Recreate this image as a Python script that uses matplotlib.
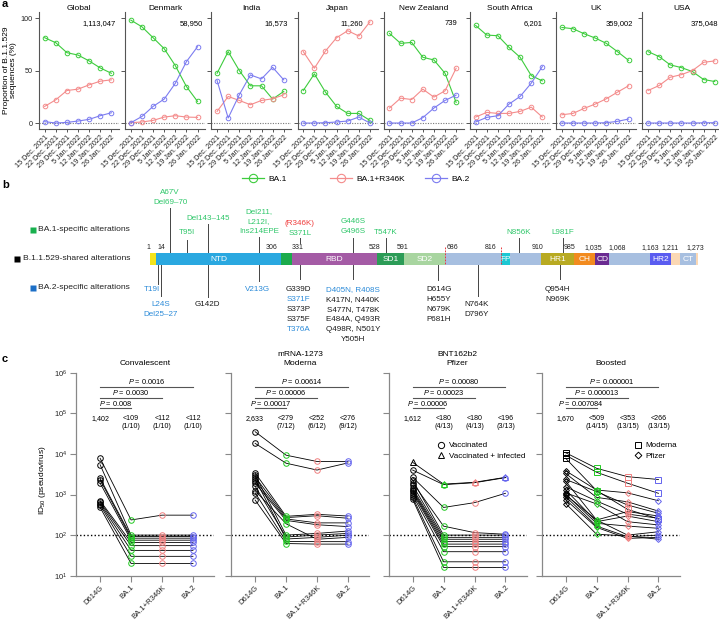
import matplotlib
matplotlib.use('Agg')
import matplotlib.pyplot as plt
from matplotlib.lines import Line2D
import numpy as np

plt.rcParams['font.family'] = ['Liberation Sans', 'DejaVu Sans']
plt.rcParams['mathtext.fontset'] = 'custom'
plt.rcParams['mathtext.rm'] = 'Liberation Sans'
plt.rcParams['mathtext.it'] = 'Liberation Sans:italic'
plt.rcParams['mathtext.bf'] = 'Liberation Sans:bold'

W, H = 719, 621
fig = plt.figure(figsize=(W / 100, H / 100), dpi=100)


def ax_px(l, t, r, b):
    return fig.add_axes([l / W, 1 - b / H, (r - l) / W, (b - t) / H])


# ======================= DATA: panel a =======================
dates = ['15 Dec. 2021', '22 Dec. 2021', '29 Dec. 2021', '5 Jan. 2022',
         '12 Jan. 2022', '19 Jan. 2022', '26 Jan. 2022']
regions = ['Global', 'Denmark', 'India', 'Japan', 'New Zealand',
           'South Africa', 'UK', 'USA']
seq_counts = ['1,113,047', '58,950', '16,573', '11,260', '739', '6,201',
              '359,002', '375,048']
ba1_pct = [
    [81.6, 76.8, 67.3, 65.0, 59.4, 52.7, 47.6],
    [98.4, 92.0, 81.6, 71.1, 54.9, 34.9, 20.6],
    [47.6, 68.3, 50.2, 35.6, 35.6, 22.9, 30.2],
    [31.1, 47.0, 29.5, 15.9, 9.2, 9.2, 2.5],
    [85.7, 76.2, 77.1, 62.9, 60.3, 47.6, 19.7],
    [93.3, 84.1, 83.5, 72.4, 62.9, 45.4, 40.3],
    [91.4, 90.2, 85.4, 81.3, 76.2, 68.3, 60.0],
    [68.3, 63.5, 55.6, 53.0, 49.2, 41.6, 39.7],
]
r346k_pct = [
    [15.9, 22.2, 31.1, 32.4, 36.5, 40.0, 41.3],
    [0.3, 1.0, 2.5, 5.7, 7.0, 5.7, 5.4],
    [11.1, 25.4, 21.6, 17.5, 21.6, 23.2, 27.0],
    [68.3, 52.4, 68.9, 81.6, 88.3, 83.2, 96.8],
    [14.3, 23.8, 22.5, 32.4, 24.8, 30.8, 52.4],
    [5.7, 10.2, 9.2, 9.2, 11.1, 15.2, 5.7],
    [7.9, 9.2, 14.0, 18.1, 23.2, 29.5, 35.6],
    [31.1, 35.9, 43.8, 46.3, 50.2, 58.1, 59.4],
]
ba2_pct = [
    [1.3, 0.0, 0.6, 1.9, 3.5, 7.0, 9.8],
    [0.3, 6.3, 15.9, 22.9, 38.0, 58.7, 73.0],
    [40.6, 4.8, 27.0, 46.0, 42.2, 53.3, 41.3],
    [0.0, 0.0, 0.3, 1.0, 1.9, 5.7, 0.0],
    [0.0, 0.0, 0.0, 5.1, 14.3, 21.6, 26.7],
    [1.0, 5.4, 7.0, 18.1, 25.4, 38.1, 54.0],
    [0.0, 0.0, 0.0, 0.0, 0.3, 1.6, 3.8],
    [0.0, 0.0, 0.0, 0.0, 0.0, 0.2, 0.3],
]
variant_names = ['BA.1', 'BA.1+R346K', 'BA.2']

# ======================= DATA: panel b =======================
domain_start = [1, 14, 306, 331, 528, 591, 686, 816, 837, 910, 985, 1035, 1068, 1163, 1211, 1233, 1270]
domain_end = [14, 306, 331, 528, 591, 686, 816, 837, 910, 985, 1035, 1068, 1163, 1211, 1233, 1270, 1273]
domain_names = ['', 'NTD', '', 'RBD', 'SD1', 'SD2', '', 'FP', '', 'HR1', 'CH', 'CD', '', 'HR2', '', 'CT', '']
domain_colors = ['#f3e41c', '#2aa8e0', '#1cab4c', '#a45ba5', '#2c9c57', '#a8d5a0', '#a7bfe0', '#1bc8d3',
                 '#a7bfe0', '#b8aa22', '#f28b1f', '#6a2b91', '#a7bfe0', '#5a5cf0', '#fbd8b4', '#a7bfe0', '#fbd8b4']
boundary_values = [1, 14, 306, 331, 528, 591, 686, 816, 910, 985, 1035, 1068, 1163, 1211, 1273]
boundary_label_pos = [-3.6, 26.5, 284, 345, 523.6, 588.7, 702.5, 793, 902, 976.6, 1030, 1085.8, 1162.4, 1209, 1267]
cleavage_sites = [686, 816]

top_stem_pos = [47.5, 87, 135.7, 254, 349, 472.5, 549, 858, 960]
top_labels = [['A67V', 'Del69–70'], ['T95I'], ['Del143–145'], ['Del211,', 'L212I,', 'Ins214EPE'],
              ['(R346K)', 'S371L'], ['G446S', 'G496S'], ['T547K'], ['N856K'], ['L981F']]
top_label_kind = [['ba1', 'ba1'], ['ba1'], ['ba1'], ['ba1', 'ba1', 'ba1'],
                  ['r346k', 'ba1'], ['ba1', 'ba1'], ['ba1'], ['ba1'], ['ba1']]
top_last_line_y = [202.5, 233, 218.3, 231.7, 233.3, 231.7, 233, 233, 233]
top_stem_top = [208, 240, 224, 237.5, 238.5, 237.7, 238, 238, 238]
top_stem_bottom = [253, 253, 253, 253, 243, 253, 253, 253, 253]

bot_stem_pos = [19.6, 26.5, 135.7, 254, 349, 472.5, 670, 763, 953]
bot_text_pos = [5.6, 26.5, 133.4, 251.7, 346.7, 472.5, 672.3, 760.7, 948.3]
bot_labels = [['T19I'], ['L24S', 'Del25–27'], ['G142D'], ['V213G'],
              ['G339D', 'S371F', 'S373P', 'S375F', 'T376A'],
              ['D405N, R408S', 'K417N, N440K', 'S477N, T478K', 'E484A, Q493R', 'Q498R, N501Y', 'Y505H'],
              ['D614G', 'H655Y', 'N679K', 'P681H'], ['N764K', 'D796Y'], ['Q954H', 'N969K']]
bot_label_kind = [['ba2'], ['ba2', 'ba2'], ['shared'], ['ba2'],
                  ['shared', 'ba2', 'shared', 'shared', 'ba2'],
                  ['ba2', 'shared', 'shared', 'shared', 'shared', 'shared'],
                  ['shared'] * 4, ['shared'] * 2, ['shared'] * 2]
bot_first_line_y = [289.3, 304.3, 304.3, 289.3, 289.3, 289.3, 289.3, 304.3, 289.3]
bot_stem_end = [284, 296, 297, 281, 279, 279, 280, 296, 279]

legend_b_labels = ['BA.1-specific alterations', 'B.1.1.529-shared alterations', 'BA.2-specific alterations']
legend_b_kind = ['ba1', 'shared', 'ba2']

# ======================= DATA: panel c =======================
c_categories = ['D614G', 'BA.1', 'BA.1+R346K', 'BA.2']
c_titles = ['Convalescent', 'mRNA-1273\nModerna', 'BNT162b2\nPfizer', 'Boosted']

conv_d614g = [7800, 5400, 2500, 2300, 1900, 700, 650, 600, 550, 480]
conv_ba1 = [236, 100, 92, 84, 75, 66, 55, 42, 30, 20]
conv_r346k = [310, 100, 92, 84, 75, 66, 55, 42, 30, 20]
conv_ba2 = [310, 100, 92, 84, 75, 66, 55, 42, 30, 20]

mod_d614g = [35200, 18200, 3400, 3000, 2700, 2400, 2200, 1900, 1600, 1250, 1100, 730]
mod_ba1 = [9300, 5900, 290, 100, 270, 80, 250, 230, 90, 190, 70, 62]
mod_r346k = [6500, 4000, 325, 110, 300, 88, 200, 180, 100, 79, 69, 60]
mod_ba2 = [6500, 6000, 295, 126, 260, 100, 200, 162, 110, 88, 69, 60]

pfz_d614g = [6200, 4000, 2650, 2270, 1960, 1700, 1410, 1290, 1200, 1100, 970, 850, 760]
pfz_ba1 = [1800, 1750, 480, 100, 166, 88, 79, 69, 60, 52, 39, 22, 16]
pfz_r346k = [2000, 1950, 630, 100, 115, 88, 79, 69, 60, 52, 39, 22, 16]
pfz_ba2 = [2650, 2600, 1070, 100, 105, 88, 79, 69, 60, 52, 39, 22, 16]
pfz_group = ['infected'] + ['vaccinated'] * 12

bst_d614g = [10700, 9300, 7800, 3850, 3300, 2350, 2130, 1550, 1300, 1100, 1020, 980, 890, 750, 600]
bst_ba1 = [4420, 3530, 1250, 1290, 850, 1180, 236, 690, 214, 585, 195, 236, 167, 155, 105]
bst_r346k = [2750, 1900, 430, 1100, 660, 550, 380, 330, 295, 214, 167, 100, 91, 83, 95]
bst_ba2 = [2340, 1070, 250, 700, 390, 345, 295, 260, 214, 178, 147, 121, 100, 88, 79]
bst_group = ['moderna'] * 3 + ['pfizer'] * 12

p_values = [['0.008', '0.0030', '0.0016'],
            ['0.00017', '0.00006', '0.00614'],
            ['0.00006', '0.00023', '0.00080'],
            ['0.007084', '0.000013', '0.000001']]
gmt_values = [['1,402', '<109', '<112', '<112'],
              ['2,633', '<279', '<252', '<276'],
              ['1,612', '<180', '<180', '<196'],
              ['1,670', '<509', '<353', '<266']]
gmt_fraction = [['', '(1/10)', '(1/10)', '(1/10)'],
                ['', '(7/12)', '(6/12)', '(9/12)'],
                ['', '(4/13)', '(4/13)', '(3/13)'],
                ['', '(14/15)', '(13/15)', '(13/15)']]
lod = 100

# ======================= STYLE =======================
GREEN_A, RED_A, BLUE_A = '#3dcc3d', '#f48c8c', '#7c7cf0'
GREEN_C, RED_C, BLUE_C = '#22c922', '#f08080', '#6464ee'
AX_GRAY = '#555555'
TXT_COL = {'ba1': '#2fc76a', 'r346k': '#f03a3a', 'ba2': '#2a8ad8', 'shared': '#1a1a1a'}
SQ_COL = {'ba1': '#18b04e', 'shared': '#000000', 'ba2': '#1c6fc6'}
count_label_x = [0.96, 0.97, 0.96, 0.82, 0.925, 0.91, 0.96, 0.95]

# ======================= PANEL a =======================
x_dates = np.arange(len(dates))
for i, reg in enumerate(regions):
    left = 39 + i * 86.2
    ax = ax_px(left, 12.2, left + 80, 129.3)
    for vals, c in [(ba1_pct[i], GREEN_A), (r346k_pct[i], RED_A), (ba2_pct[i], BLUE_A)]:
        ax.plot(x_dates, vals, color=c, lw=0.8, marker='o', ms=3.3, mfc='none',
                mec=c, mew=0.7, clip_on=False, zorder=3)
    ax.axhline(0, color='#777777', lw=0.8, ls=(0, (1, 1.3)), zorder=1)
    ax.set_xlim(-0.51, 6.69)
    ax.set_ylim(-6, 106)
    for s in ['top', 'right']:
        ax.spines[s].set_visible(False)
    for s in ['left', 'bottom']:
        ax.spines[s].set_color(AX_GRAY)
        ax.spines[s].set_linewidth(0.8)
    ax.set_yticks([0, 50, 100])
    ax.set_xticks(x_dates)
    ax.set_xticklabels(dates, rotation=45, ha='right', rotation_mode='anchor', fontsize=5.2)
    ax.tick_params(axis='both', colors=AX_GRAY, width=0.7, length=3, labelcolor='#222222',
                   labelsize=5.2, pad=1.5)
    ax.tick_params(axis='x', length=2)
    if i > 0:
        ax.set_yticklabels([])
    ax.text(0.5, 1.0, reg, transform=ax.transAxes, ha='center', va='bottom', fontsize=6)
    ax.text(count_label_x[i], 0.905, seq_counts[i], transform=ax.transAxes, ha='right',
            va='center', fontsize=5.5)

fig.text(10 / W, 1 - 70 / H, 'Proportion of B.1.1.529\nsequences (%)', rotation=90,
         ha='center', va='center', fontsize=6, linespacing=1.15)

leg_x = [242, 330, 425]
for name, c, lx in zip(variant_names, [GREEN_A, RED_A, BLUE_A], leg_x):
    h = Line2D([0], [0], color=c, lw=0.9, marker='o', ms=6, mfc='none', mec=c, mew=0.8)
    fig.legend([h], [name], loc='center left', bbox_to_anchor=(lx / W, 1 - 179.5 / H),
               frameon=False, fontsize=6, handlelength=2.6, handletextpad=0.6,
               borderpad=0, borderaxespad=0)

# ======================= PANEL b =======================
PX_PER_RES = 0.4305
RES1_PX = 150
axb = ax_px(0, 184, W, 350)
axb.set_xlim(1 - RES1_PX / PX_PER_RES, 1 + (W - RES1_PX) / PX_PER_RES)
axb.set_ylim(350, 184)
axb.axis('off')
BAR_Y, BAR_H = 259, 12
for s, e, n, c in zip(domain_start, domain_end, domain_names, domain_colors):
    axb.barh(BAR_Y, e - s, left=s, height=BAR_H, color=c, edgecolor='none', zorder=2)
    if n:
        axb.text((s + e) / 2, BAR_Y + 0.3, n, ha='center', va='center', color='white',
                 fontsize=6, zorder=3)
for v, p in zip(boundary_values, boundary_label_pos):
    axb.text(p, 248, f'{v:,}', ha='center', va='center', fontsize=5, color='#222222')
for v in cleavage_sites:
    axb.plot([v, v], [247, BAR_Y + BAR_H / 2], color='#e8383d', lw=0.7,
             ls=(0, (1.8, 1.3)), zorder=4)

LINE_STEP = 10
for pos, labs, kinds, ly, st, sb in zip(top_stem_pos, top_labels, top_label_kind,
                                          top_last_line_y, top_stem_top, top_stem_bottom):
    axb.plot([pos, pos], [st, sb], color='#444444', lw=0.7, zorder=1)
    n = len(labs)
    for k, (lab, kd) in enumerate(zip(labs, kinds)):
        axb.text(pos, ly - (n - 1 - k) * LINE_STEP, lab, ha='center', va='center',
                 color=TXT_COL[kd], fontsize=5.8)

for pos, tpos, labs, kinds, fy, se in zip(bot_stem_pos, bot_text_pos, bot_labels, bot_label_kind,
                                          bot_first_line_y, bot_stem_end):
    axb.plot([pos, pos], [BAR_Y + BAR_H / 2, se], color='#444444', lw=0.7, zorder=1)
    for k, (lab, kd) in enumerate(zip(labs, kinds)):
        axb.text(tpos, fy + k * LINE_STEP, lab, ha='center', va='center',
                 color=TXT_COL[kd], fontsize=5.8)

# legend of panel b
legend_b_y = [230, 259, 288]
leg_right_res = 1 + (130 - RES1_PX) / PX_PER_RES
renderer = fig.canvas.get_renderer()
for lab, kd, yy in zip(legend_b_labels, legend_b_kind, legend_b_y):
    t = axb.text(leg_right_res, yy, lab, ha='right', va='center', fontsize=6.1, color='#222222')
    bb = t.get_window_extent(renderer=renderer)
    x_left_px = bb.x0
    inv = axb.transData.inverted()
    xd, _ = inv.transform((x_left_px - 5.5, 0))
    axb.plot(xd, yy, marker='s', ms=5, color=SQ_COL[kd], mec='none', clip_on=False)

# ======================= PANEL c =======================
c_lefts = [76, 231, 388.5, 541.5]
C_TOP, C_BOT = 372.7, 575.7
c_colors = ['black', GREEN_C, RED_C, BLUE_C]
panel_sets = [
    ([conv_d614g, conv_ba1, conv_r346k, conv_ba2], ['o'] * len(conv_d614g)),
    ([mod_d614g, mod_ba1, mod_r346k, mod_ba2], ['o'] * len(mod_d614g)),
    ([pfz_d614g, pfz_ba1, pfz_r346k, pfz_ba2], ['^' if g == 'infected' else 'o' for g in pfz_group]),
    ([bst_d614g, bst_ba1, bst_r346k, bst_ba2], ['s' if g == 'moderna' else 'D' for g in bst_group]),
]
p_levels = [10 ** 5.12, 10 ** 5.38, 10 ** 5.66]
xcat = np.arange(len(c_categories))
c_axes = []
for k in range(4):
    ax = ax_px(c_lefts[k], C_TOP, c_lefts[k] + 138, C_BOT)
    c_axes.append(ax)
    ax.set_yscale('log')
    cols, markers = panel_sets[k]
    for j in range(len(cols[0])):
        vals = [cols[c][j] for c in range(4)]
        ax.plot(xcat, vals, color='black', lw=0.6, zorder=2)
    for c in range(4):
        for j in range(len(cols[0])):
            m = markers[j]
            ms = {'o': 4.0, '^': 4.2, 's': 4.0, 'D': 3.0}[m]
            ax.plot(xcat[c], cols[c][j], ls='none', marker=m, ms=ms, mfc='none',
                    mec=c_colors[c], mew=0.7, zorder=3)
    ax.axhline(lod, color='black', lw=1.0, ls=(0, (1, 1.6)), zorder=1)
    ax.set_ylim(10, 1e6)
    ax.set_xlim(-0.78, 3.68)
    for s in ['top', 'right']:
        ax.spines[s].set_visible(False)
    for s in ['left', 'bottom']:
        ax.spines[s].set_color('#888888')
        ax.spines[s].set_linewidth(0.9)
    ax.set_yticks([10 ** e for e in range(1, 7)])
    ax.minorticks_off()
    ax.set_xticks(xcat)
    ax.set_xticklabels(c_categories, rotation=45, ha='right', rotation_mode='anchor')
    ax.tick_params(axis='both', colors='#888888', width=0.8, length=4, labelcolor='#222222',
                   labelsize=5.5, pad=2)
    if k > 0:
        ax.set_yticklabels([])
    # P-value brackets
    for lvl, (pv, tgt) in enumerate(zip(p_values[k], [1, 2, 3])):
        ax.plot([0, tgt], [p_levels[lvl]] * 2, color='#555555', lw=0.8)
        ax.text(tgt / 2, p_levels[lvl] * 1.04, r'$\it{P}$ = ' + pv, ha='center', va='bottom',
                fontsize=5.3)
    for c in range(4):
        ax.text(xcat[c], 10 ** 4.87, gmt_values[k][c], ha='center', va='center', fontsize=5.1)
        if gmt_fraction[k][c]:
            ax.text(xcat[c], 10 ** 4.665, gmt_fraction[k][c], ha='center', va='center', fontsize=5.1)
    ax.text(0.5, 1 + 6 / (C_BOT - C_TOP), c_titles[k], transform=ax.transAxes, ha='center',
            va='bottom', fontsize=6, linespacing=1.25)

fig.text(43 / W, 1 - 480 / H, r'ID$_{50}$ (pseudovirus)', rotation=90, ha='center', va='center',
         fontsize=6)

# legends in panel c
h_vac = Line2D([0], [0], ls='none', marker='o', ms=4.5, mfc='none', mec='black', mew=0.7)
h_inf = Line2D([0], [0], ls='none', marker='^', ms=4.5, mfc='none', mec='black', mew=0.7)
c_axes[2].legend([h_vac, h_inf], ['Vaccinated', 'Vaccinated + infected'], loc='upper left',
                 bbox_to_anchor=(0.33, 0.68), frameon=False, fontsize=5.8, handlelength=0.8,
                 handletextpad=0.6, borderpad=0, labelspacing=0.35)
h_mod = Line2D([0], [0], ls='none', marker='s', ms=4.5, mfc='none', mec='black', mew=0.7)
h_pfz = Line2D([0], [0], ls='none', marker='D', ms=3.4, mfc='none', mec='black', mew=0.7)
c_axes[3].legend([h_mod, h_pfz], ['Moderna', 'Pfizer'], loc='upper left',
                 bbox_to_anchor=(0.645, 0.68), frameon=False, fontsize=5.8, handlelength=0.8,
                 handletextpad=0.6, borderpad=0, labelspacing=0.35)

# panel letters
for letter, yy in [('a', 4), ('b', 185), ('c', 359)]:
    fig.text(2 / W, 1 - yy / H, letter, ha='left', va='center', fontsize=8, fontweight='bold')

fig.savefig('out.png', dpi=100)
